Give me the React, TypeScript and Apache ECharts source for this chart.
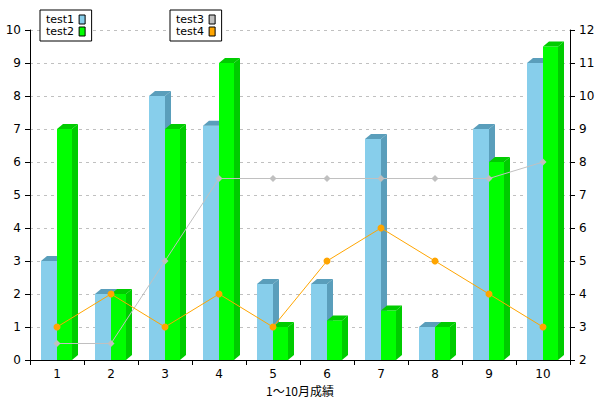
import React, { useEffect, useRef } from "react";
import * as echarts from "echarts";

const categories = ["1", "2", "3", "4", "5", "6", "7", "8", "9", "10"];
const test1 = [3, 2, 8, 7.1, 2.3, 2.3, 6.7, 1, 7, 9];
const test2 = [7, 2, 7, 9, 1, 1.2, 1.5, 1, 6, 9.5];
const test3 = [2.5, 2.5, 5, 7.5, 7.5, 7.5, 7.5, 7.5, 7.5, 8];
const test4 = [3, 4, 3, 4, 3, 5, 6, 5, 4, 3];
const leftTicks = { min: 0, max: 10, interval: 1 };
const rightTicks = { min: 2, max: 12, interval: 1 };
const xName = "1〜10月成績";

const FONT = "DejaVu Sans, Verdana, sans-serif";

function bar3d(offset: number, width: number, front: string, side: string) {
  return (params: any, api: any) => {
    const cat = api.value(0);
    const val = api.value(1);
    const base = api.coord([cat, 0]);
    const top = api.coord([cat, val]);
    const x0 = base[0] + offset;
    const x1 = x0 + width;
    const yb = base[1];
    const yt = top[1];
    const dx = 6;
    const dy = 5;
    return {
      type: "group",
      children: [
        {
          type: "polygon",
          shape: { points: [[x0, yt], [x1, yt], [x1, yb], [x0, yb]] },
          style: { fill: front },
        },
        {
          type: "polygon",
          shape: { points: [[x0, yt], [x0 + dx, yt - dy], [x1 + dx, yt - dy], [x1, yt]] },
          style: { fill: side },
        },
        {
          type: "polygon",
          shape: { points: [[x1, yt], [x1 + dx, yt - dy], [x1 + dx, yb - dy], [x1, yb]] },
          style: { fill: side },
        },
      ],
    };
  };
}

export default function App() {
  const ref = useRef<HTMLDivElement>(null);
  useEffect(() => {
    if (!ref.current) return;
    const chart = echarts.init(ref.current, undefined, { renderer: "svg" });
    const legendCommon = {
      orient: "vertical",
      align: "right",
      top: 10,
      icon: "rect",
      itemWidth: 6,
      itemHeight: 9,
      itemGap: 1,
      padding: [4, 6, 4, 6],
      borderColor: "#000",
      borderWidth: 1,
      backgroundColor: "#fff",
      textStyle: { fontSize: 11, lineHeight: 11, color: "#000", fontFamily: FONT },
      itemStyle: { borderColor: "#000", borderWidth: 1 },
      lineStyle: { width: 0, opacity: 0 },
      selectedMode: false,
    };
    chart.setOption({
      animation: false,
      backgroundColor: "#fff",
      textStyle: { fontFamily: FONT },
      legend: [
        { ...legendCommon, left: 40, data: ["test1", "test2"] },
        { ...legendCommon, left: 170, data: ["test3", "test4"] },
      ],
      grid: { left: 30, right: 30, top: 30, bottom: 40, containLabel: false, outerBoundsMode: "none" },
      xAxis: {
        type: "category",
        data: categories,
        boundaryGap: true,
        name: xName,
        nameLocation: "middle",
        nameGap: 21,
        nameTextStyle: { fontSize: 12, color: "#000", fontFamily: "Noto Sans CJK JP, sans-serif" },
        axisLine: { lineStyle: { color: "#000", width: 1 } },
        axisTick: { show: true, length: 5, alignWithLabel: false, lineStyle: { color: "#000" } },
        axisLabel: { fontSize: 12, color: "#000", margin: 8 },
        splitLine: { show: false },
      },
      yAxis: [
        {
          type: "value",
          position: "left",
          ...leftTicks,
          axisLine: { show: true, lineStyle: { color: "#000" } },
          axisTick: { show: true, length: 5, lineStyle: { color: "#000" } },
          axisLabel: { fontSize: 12, color: "#000", margin: 9 },
          splitLine: { show: true, lineStyle: { color: "#c0c0c0", type: [3, 4] } },
        },
        {
          type: "value",
          position: "right",
          ...rightTicks,
          axisLine: { show: true, lineStyle: { color: "#000" } },
          axisTick: { show: true, length: 5, lineStyle: { color: "#000" } },
          axisLabel: { fontSize: 12, color: "#000", margin: 9 },
          splitLine: { show: false },
        },
      ],
      series: [
        {
          name: "test1",
          type: "custom",
          yAxisIndex: 0,
          renderItem: bar3d(-16, 16, "#87ceeb", "#5a9ebb"),
          encode: { x: 0, y: 1 },
          itemStyle: { color: "#87ceeb" },
          data: test1.map((v, i) => [i, v]),
          z: 2,
        },
        {
          name: "test2",
          type: "custom",
          yAxisIndex: 0,
          renderItem: bar3d(0, 15, "#00ff00", "#00cc00"),
          encode: { x: 0, y: 1 },
          itemStyle: { color: "#00ff00" },
          data: test2.map((v, i) => [i, v]),
          z: 3,
        },
        {
          name: "test3",
          type: "line",
          yAxisIndex: 1,
          data: test3,
          symbol: "diamond",
          symbolSize: 7,
          itemStyle: { color: "#c0c0c0" },
          lineStyle: { color: "#c0c0c0", width: 1 },
          z: 5,
        },
        {
          name: "test4",
          type: "line",
          yAxisIndex: 1,
          data: test4,
          symbol: "circle",
          symbolSize: 7,
          itemStyle: { color: "#ffa500" },
          lineStyle: { color: "#ffa500", width: 1 },
          z: 6,
        },
      ],
    });
    return () => chart.dispose();
  }, []);
  return <div ref={ref} style={{ width: 600, height: 400, position: "absolute", left: 0, top: 0 }} />;
}
